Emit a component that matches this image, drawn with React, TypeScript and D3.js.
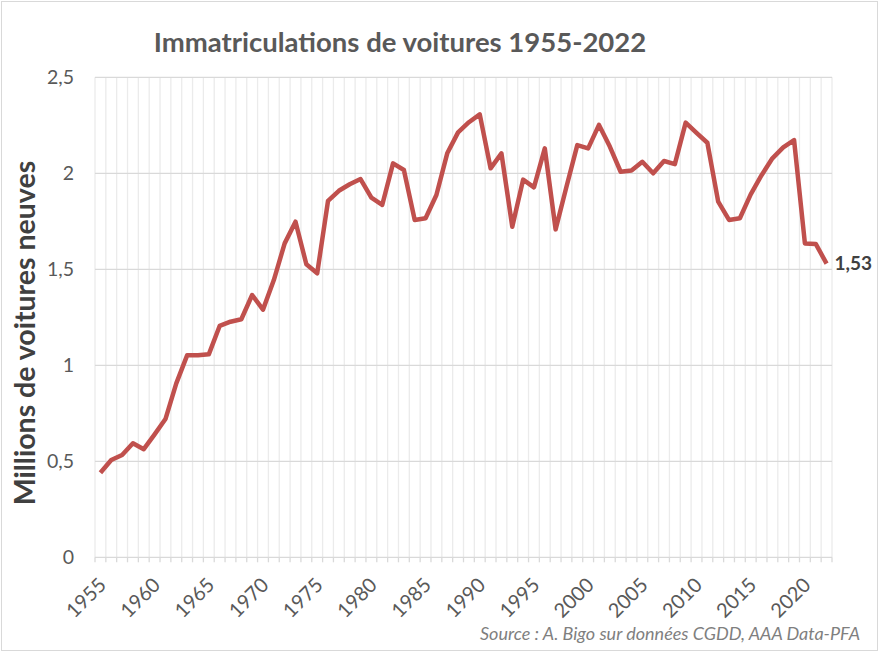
import React from 'react';
import * as d3 from 'd3';

const years = d3.range(1955, 2023);
const sales = [
  0.44, 0.507, 0.533, 0.594, 0.563, 0.64, 0.72, 0.906, 1.052, 1.052,
  1.057, 1.205, 1.227, 1.24, 1.366, 1.29, 1.444, 1.635, 1.748, 1.526,
  1.479, 1.856, 1.909, 1.943, 1.97, 1.873, 1.835, 2.052, 2.017, 1.757,
  1.766, 1.887, 2.104, 2.213, 2.266, 2.307, 2.026, 2.104, 1.722, 1.967,
  1.927, 2.13, 1.708, 1.93, 2.147, 2.13, 2.252, 2.139, 2.008, 2.014,
  2.06, 2.0, 2.064, 2.048, 2.264, 2.211, 2.159, 1.852, 1.757, 1.766,
  1.89, 1.99, 2.078, 2.135, 2.173, 1.635, 1.632, 1.53,
];
const yTicks = [0, 0.5, 1, 1.5, 2, 2.5];
const yTickLabels = ['0', '0,5', '1', '1,5', '2', '2,5'];
const labeledYears = [1955, 1960, 1965, 1970, 1975, 1980, 1985, 1990, 1995, 2000, 2005, 2010, 2015, 2020];

const W = 881;
const H = 652;
const left = 95;
const right = 832;
const top = 77.3;
const bottom = 557.3;
const font = 'Lato, "Open Sans", sans-serif';

const App: React.FC = () => {
  const x = d3.scaleBand<number>().domain(years).range([left, right]).padding(0);
  const y = d3.scaleLinear().domain([0, 2.5]).range([bottom, top]);
  const cx = (yr: number) => (x(yr) as number) + x.bandwidth() / 2;

  const line = d3
    .line<number>()
    .x((_, i) => cx(years[i]))
    .y((d) => y(d));

  const bounds = years.map((yr) => x(yr) as number).concat([right]);
  const lastYear = years[years.length - 1];
  const lastVal = sales[sales.length - 1];

  return (
    <svg
      width={W}
      height={H}
      style={{ position: 'absolute', left: 0, top: 0, background: '#fff' }}
      fontFamily={font}
    >
      <rect x={1.5} y={1.5} width={876} height={649} fill="#fff" stroke="#d9d9d9" />

      {/* vertical gridlines at category boundaries */}
      {bounds.map((bx, i) => (
        <line key={'v' + i} x1={bx} x2={bx} y1={top} y2={bottom} stroke="#ebebeb" strokeWidth={1.3} />
      ))}
      {/* horizontal gridlines */}
      {yTicks.map((t) => (
        <line key={'h' + t} x1={left} x2={right} y1={y(t)} y2={y(t)} stroke="#d9d9d9" strokeWidth={1.3} />
      ))}
      {/* tick marks */}
      {bounds.map((bx, i) => (
        <line key={'t' + i} x1={bx} x2={bx} y1={bottom} y2={bottom + 5} stroke="#d9d9d9" strokeWidth={1.3} />
      ))}

      {yTicks.map((t, i) => (
        <text key={'yl' + t} x={74} y={y(t)} dy="0.35em" textAnchor="end" fontSize={19.5} fill="#595959">
          {yTickLabels[i]}
        </text>
      ))}

      {labeledYears.map((yr) => (
        <text
          key={'xl' + yr}
          transform={`translate(${cx(yr) + 2},${bottom + 24}) rotate(-45)`}
          textAnchor="end"
          dy="0.35em"
          fontSize={20}
          fill="#595959"
        >
          {yr}
        </text>
      ))}

      <path d={line(sales) || ''} fill="none" stroke="#c0504d" strokeWidth={4.5} strokeLinejoin="round" />

      <text x={cx(lastYear) + 8} y={y(lastVal)} dy="0.35em" fontSize={19} fontWeight="bold" fill="#404040">
        1,53
      </text>

      <text x={400} y={52} textAnchor="middle" fontSize={27.5} fontWeight="bold" fill="#595959">
        Immatriculations de voitures 1955-2022
      </text>

      <text
        transform={`translate(35,333) rotate(-90)`}
        textAnchor="middle"
        fontSize={28.5}
        fontWeight="bold"
        fill="#404040"
      >
        Millions de voitures neuves
      </text>

      <text x={860} y={640} textAnchor="end" fontSize={18} fontStyle="italic" fill="#7f7f7f">
        Source : A. Bigo sur données CGDD, AAA Data-PFA
      </text>
    </svg>
  );
};

export default App;
